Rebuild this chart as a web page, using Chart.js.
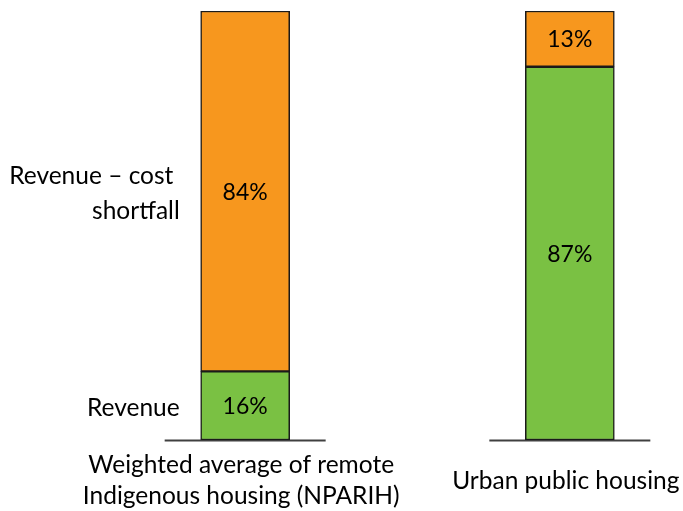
<!DOCTYPE html>
<html>
<head>
<meta charset="utf-8">
<script src="https://cdn.jsdelivr.net/npm/chart.js@4"></script>
<style>
  html, body { margin: 0; padding: 0; background: #ffffff; }
  #wrap { width: 683px; height: 511px; }
</style>
</head>
<body>
<div id="wrap"><canvas id="grafica" width="683" height="511"></canvas></div>
<script>
// categorias (la del medio vacia, solo hace de separador)
const categorias = [
  ["Weighted average of remote", "Indigenous housing (NPARIH)"],
  [""],
  ["Urban public housing"],
];
const series = ["Revenue", ["Revenue \u2013 cost ", "shortfall"]];
const valoresRevenue = [16, null, 87];
const valoresShortfall = [84, null, 13];
const colores = ["#7AC143", "#F7971E"];

const fuente = "Lato, 'Liberation Sans', sans-serif";

// dibuja etiquetas de porcentaje, etiquetas de series, ejes cortos y categorias
const pluginEtiquetas = {
  id: "etiquetas",
  beforeDatasetsDraw(chart) {
    const ctx = chart.ctx;
    const meta = chart.getDatasetMeta(0);
    ctx.save();
    ctx.strokeStyle = "#404040";
    ctx.lineWidth = 2;
    meta.data.forEach((bar, i) => {
      if (valoresRevenue[i] == null) return;
      const mitad = bar.width / 2 + 36;
      ctx.beginPath();
      ctx.moveTo(bar.x - mitad, bar.base + 0.5);
      ctx.lineTo(bar.x + mitad, bar.base + 0.5);
      ctx.stroke();
    });
    ctx.restore();
  },
  afterDatasetsDraw(chart) {
    const ctx = chart.ctx;
    const xScale = chart.scales.x;
    ctx.save();
    ctx.fillStyle = "#000000";
    ctx.textBaseline = "middle";

    // porcentajes dentro de las barras
    ctx.font = "23px " + fuente;
    chart.data.datasets.forEach((ds, d) => {
      chart.getDatasetMeta(d).data.forEach((bar, i) => {
        const v = ds.data[i];
        if (v == null) return;
        ctx.textAlign = "center";
        ctx.fillText(v + "%", bar.x, (bar.y + bar.base) / 2 + 1);
      });
    });

    // nombres de las series a la izquierda de la primera barra
    ctx.font = "24.5px " + fuente;
    chart.data.datasets.forEach((ds, d) => {
      const bar = chart.getDatasetMeta(d).data[0];
      const lineas = Array.isArray(ds.label) ? ds.label : [ds.label];
      const xDer = bar.x - bar.width / 2 - 21;
      const yMid = (bar.y + bar.base) / 2 + 2;
      ctx.textAlign = "right";
      lineas.forEach((t, k) => {
        ctx.fillText(t, xDer, yMid + (k - (lineas.length - 1) / 2) * 35);
      });
    });

    // etiquetas de categoria
    ctx.textAlign = "center";
    categorias.forEach((lineas, i) => {
      const x = xScale.getPixelForValue(i) - 4;
      const yMid = 481;
      lineas.forEach((t, k) => {
        ctx.fillText(t, x, yMid + (k - (lineas.length - 1) / 2) * 31);
      });
    });
    ctx.restore();
  },
};

const ctxGrafica = document.getElementById("grafica").getContext("2d");
const grafica = new Chart(ctxGrafica, {
  type: "bar",
  data: {
    labels: categorias,
    datasets: [
      {
        label: series[0],
        data: valoresRevenue,
        backgroundColor: colores[0],
        borderColor: "#1a1a1a",
        borderWidth: 1.5,
        borderSkipped: false,
      },
      {
        label: series[1],
        data: valoresShortfall,
        backgroundColor: colores[1],
        borderColor: "#1a1a1a",
        borderWidth: 1.5,
        borderSkipped: false,
      },
    ],
  },
  options: {
    responsive: false,
    animation: false,
    layout: {
      padding: { left: 164, right: 32, top: 11, bottom: 71 },
    },
    datasets: {
      bar: { barThickness: 89 },
    },
    scales: {
      x: { stacked: true, display: false },
      y: { stacked: true, display: false, min: 0, max: 100 },
    },
    plugins: {
      legend: { display: false },
      tooltip: { enabled: false },
    },
  },
  plugins: [pluginEtiquetas],
});
</script>
</body>
</html>
